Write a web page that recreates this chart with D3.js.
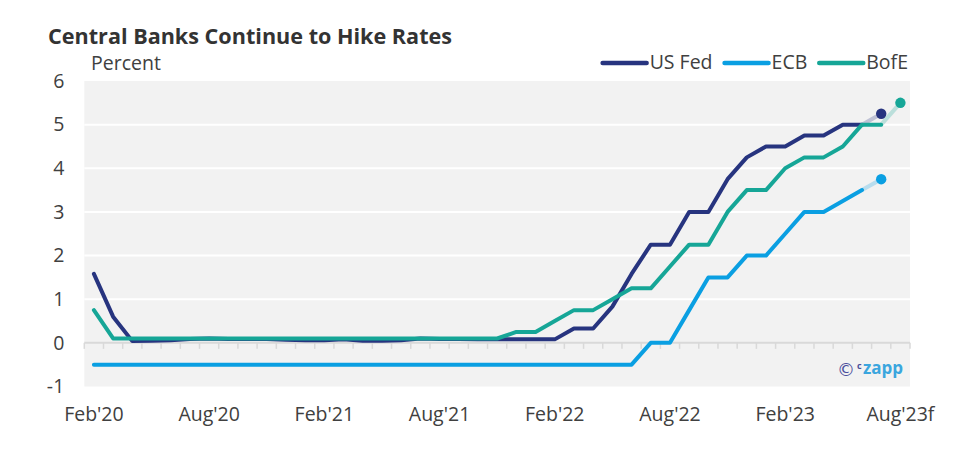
<!DOCTYPE html>
<html>
<head>
<meta charset="utf-8">
<script src="https://cdn.jsdelivr.net/npm/d3@7"></script>
<style>
  html, body { margin: 0; padding: 0; background: #ffffff; }
  svg { display: block; font-family: "Open Sans", "Noto Sans", sans-serif; }
</style>
</head>
<body>
<svg id="chart" width="975" height="456"></svg>
<script>
// ---------------- data ----------------
const monthCount = 43; // Feb'20 .. Aug'23
const months = d3.timeMonths(new Date(2020, 1, 1), new Date(2023, 8, 1));
const tickIndices = [0, 6, 12, 18, 24, 30, 36, 42];
const tickLabels = ["Feb'20", "Aug'20", "Feb'21", "Aug'21", "Feb'22", "Aug'22", "Feb'23", "Aug'23f"];
const yTicks = [-1, 0, 1, 2, 3, 4, 5, 6];

const usFed = [1.58, 0.6, 0.04, 0.05, 0.06, 0.09, 0.1, 0.09, 0.09, 0.09,
  0.07, 0.06, 0.06, 0.08, 0.05, 0.05, 0.06, 0.1, 0.09, 0.09,
  0.08, 0.08, 0.08, 0.08, 0.08, 0.33, 0.33, 0.83, 1.58, 2.25,
  2.25, 3.0, 3.0, 3.75, 4.25, 4.5, 4.5, 4.75, 4.75, 5.0,
  5.0];
const ecb = [-0.5, -0.5, -0.5, -0.5, -0.5, -0.5, -0.5, -0.5, -0.5, -0.5,
  -0.5, -0.5, -0.5, -0.5, -0.5, -0.5, -0.5, -0.5, -0.5, -0.5,
  -0.5, -0.5, -0.5, -0.5, -0.5, -0.5, -0.5, -0.5, -0.5, 0,
  0, 0.75, 1.5, 1.5, 2.0, 2.0, 2.5, 3.0, 3.0, 3.25,
  3.5];
const bofe = [0.75, 0.1, 0.1, 0.1, 0.1, 0.1, 0.1, 0.1, 0.1, 0.1,
  0.1, 0.1, 0.1, 0.1, 0.1, 0.1, 0.1, 0.1, 0.1, 0.1,
  0.1, 0.1, 0.25, 0.25, 0.5, 0.75, 0.75, 1.0, 1.25, 1.25,
  1.75, 2.25, 2.25, 3.0, 3.5, 3.5, 4.0, 4.25, 4.25, 4.5,
  5.0, 5.0];
const usFedForecast = 5.25;
const ecbForecast = 3.75;
const bofeForecast = 5.5;

const seriesNames = ["US Fed", "ECB", "BofE"];
const seriesColors = ["#27347f", "#0a9fe2", "#16a697"];

// ---------------- chart ----------------
const svg = d3.select("#chart");
const plotLeft = 84.3, plotRight = 910;
const labelSize = 19.5;

const x = d3.scaleBand().domain(d3.range(monthCount)).range([plotLeft, plotRight]).padding(0);
const cx = i => x(i) + x.bandwidth() / 2;
const y = d3.scaleLinear().domain([-1, 6]).range([386.5, 81]);

// background
svg.append("rect")
  .attr("x", plotLeft).attr("y", y(6))
  .attr("width", plotRight - plotLeft).attr("height", y(-1) - y(6))
  .attr("fill", "#f2f2f2");

// gridlines
svg.append("g").selectAll("line")
  .data([1, 2, 3, 4, 5])
  .join("line")
  .attr("x1", plotLeft).attr("x2", plotRight)
  .attr("y1", d => y(d)).attr("y2", d => y(d))
  .attr("stroke", "#ffffff").attr("stroke-width", 2);

// zero axis with monthly ticks
const zeroY = y(0);
svg.append("line")
  .attr("x1", plotLeft).attr("x2", plotRight)
  .attr("y1", zeroY).attr("y2", zeroY)
  .attr("stroke", "#d9d9d9").attr("stroke-width", 2);
svg.append("g").selectAll("line")
  .data(d3.range(monthCount + 1))
  .join("line")
  .attr("x1", i => plotLeft + i * x.bandwidth()).attr("x2", i => plotLeft + i * x.bandwidth())
  .attr("y1", zeroY).attr("y2", zeroY + 6)
  .attr("stroke", "#d9d9d9").attr("stroke-width", 1.5);

// y axis labels
const yAxis = svg.append("g")
  .attr("transform", `translate(${plotLeft},0)`)
  .call(d3.axisLeft(y).tickValues(yTicks).tickSize(0).tickPadding(20).tickFormat(d => String(d)));
yAxis.select(".domain").remove();
yAxis.selectAll("text")
  .attr("font-family", "Open Sans").attr("font-size", labelSize).attr("fill", "#404040");

// x axis labels
const xAxis = svg.append("g")
  .attr("transform", `translate(0,${y(-1)})`)
  .call(d3.axisBottom(x).tickValues(tickIndices).tickSize(0).tickPadding(21)
    .tickFormat((d, i) => tickLabels[i]));
xAxis.select(".domain").remove();
xAxis.selectAll("text")
  .attr("font-family", "Open Sans").attr("font-size", labelSize).attr("fill", "#404040");

// lines
const line = d3.line()
  .defined(d => d != null)
  .x((d, i) => cx(i))
  .y(d => y(d));

const actuals = [usFed, ecb, bofe];
const forecasts = [usFedForecast, ecbForecast, bofeForecast];

// faded forecast connectors
actuals.forEach((arr, k) => {
  const last = arr.length - 1;
  svg.append("line")
    .attr("x1", cx(last)).attr("y1", y(arr[last]))
    .attr("x2", cx(last + 1)).attr("y2", y(forecasts[k]))
    .attr("stroke", seriesColors[k]).attr("stroke-opacity", 0.25)
    .attr("stroke-width", 4).attr("stroke-linecap", "round");
});

actuals.forEach((arr, k) => {
  svg.append("path")
    .attr("d", line(arr))
    .attr("fill", "none")
    .attr("stroke", seriesColors[k])
    .attr("stroke-width", 4)
    .attr("stroke-linejoin", "round")
    .attr("stroke-linecap", "round");
});

actuals.forEach((arr, k) => {
  svg.append("circle")
    .attr("cx", cx(arr.length)).attr("cy", y(forecasts[k]))
    .attr("r", 5.2)
    .attr("fill", seriesColors[k]);
});

// title and unit
svg.append("text")
  .attr("x", 48).attr("y", 44)
  .attr("font-family", "Open Sans").attr("font-weight", 700)
  .attr("font-size", 21.6).attr("fill", "#333333")
  .text("Central Banks Continue to Hike Rates");
svg.append("text")
  .attr("x", 91).attr("y", 70)
  .attr("font-family", "Open Sans").attr("font-size", labelSize).attr("fill", "#404040")
  .text("Percent");

// legend (laid out from the right)
const legend = svg.append("g");
let cursor = 908;
for (let k = seriesNames.length - 1; k >= 0; k--) {
  const t = legend.append("text")
    .attr("y", 69)
    .attr("font-family", "Open Sans").attr("font-size", labelSize).attr("fill", "#404040")
    .text(seriesNames[k]);
  const w = t.node().getComputedTextLength();
  const tx = cursor - w;
  t.attr("x", tx);
  legend.append("line")
    .attr("x1", tx - 47).attr("x2", tx - 3)
    .attr("y1", 63).attr("y2", 63)
    .attr("stroke", seriesColors[k]).attr("stroke-width", 4.5)
    .attr("stroke-linecap", "round");
  cursor = tx - 47 - 12;
}

// logo
const logo = svg.append("g");
logo.append("text")
  .attr("x", 837).attr("y", 376)
  .attr("font-family", "DejaVu Sans").attr("font-size", 18).attr("fill", "#4a4f9c")
  .text("\u00A9");
logo.append("text")
  .attr("x", 857).attr("y", 369)
  .attr("font-family", "Open Sans").attr("font-weight", 700).attr("font-size", 9).attr("fill", "#4a4f9c")
  .text("c");
logo.append("text")
  .attr("x", 863).attr("y", 374)
  .attr("font-family", "Open Sans").attr("font-weight", 700).attr("font-size", 17).attr("fill", "#3ba6de")
  .text("zapp");
</script>
</body>
</html>
